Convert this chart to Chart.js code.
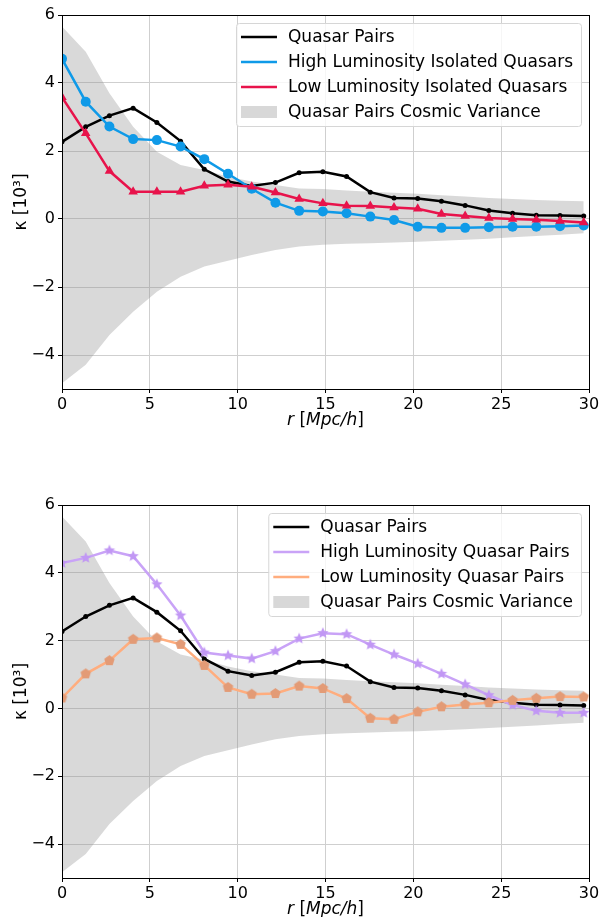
<!DOCTYPE html>
<html>
<head>
<meta charset="utf-8">
<script src="https://cdn.jsdelivr.net/npm/chart.js@4.4.1/dist/chart.umd.min.js"></script>
<style>
  body { margin: 0; background: #fff; }
  .box { position: absolute; left: 0; width: 606px; }
</style>
</head>
<body>
<div class="box" style="top:0px;height:450px"><canvas id="topChart" width="606" height="450"></canvas></div>
<div class="box" style="top:490px;height:427px"><canvas id="bottomChart" width="606" height="427"></canvas></div>
<script>
// --- data ---
const rVals = [0, 1.35, 2.7, 4.05, 5.4, 6.75, 8.1, 9.45, 10.8, 12.15, 13.5, 14.85,
               16.2, 17.55, 18.9, 20.25, 21.6, 22.95, 24.3, 25.65, 27, 28.35, 29.7];
const xTicks = [0, 5, 10, 15, 20, 25, 30];
const yTicks = [-4, -2, 0, 2, 4, 6];

const quasarPairs = [2.27, 2.71, 3.04, 3.26, 2.84, 2.29, 1.46, 1.10, 0.97, 1.07, 1.36, 1.39,
                     1.25, 0.79, 0.62, 0.60, 0.52, 0.40, 0.25, 0.17, 0.11, 0.10, 0.09];
const highLumIsolated = [4.71, 3.45, 2.72, 2.35, 2.32, 2.13, 1.76, 1.33, 0.89, 0.48, 0.24, 0.22,
                         0.17, 0.07, -0.03, -0.23, -0.26, -0.26, -0.24, -0.23, -0.23, -0.21, -0.19];
const lowLumIsolated = [3.58, 2.52, 1.41, 0.80, 0.80, 0.80, 0.98, 1.01, 0.95, 0.78, 0.59, 0.46,
                        0.39, 0.38, 0.34, 0.30, 0.15, 0.09, 0.03, 0.00, -0.02, -0.06, -0.10];
const highLumPairs = [4.29, 4.44, 4.66, 4.49, 3.66, 2.74, 1.65, 1.56, 1.47, 1.69, 2.06, 2.22,
                      2.19, 1.88, 1.59, 1.32, 1.02, 0.71, 0.39, 0.10, -0.07, -0.13, -0.13];
const lowLumPairs = [0.31, 1.02, 1.41, 2.04, 2.08, 1.89, 1.27, 0.62, 0.42, 0.44, 0.66, 0.59,
                     0.29, -0.29, -0.32, -0.10, 0.05, 0.12, 0.17, 0.24, 0.30, 0.35, 0.34];
const varianceHi = [5.66, 4.92, 3.70, 2.71, 1.98, 1.59, 1.44, 1.24, 1.10, 1.00, 0.90, 0.88,
                    0.84, 0.80, 0.77, 0.74, 0.70, 0.66, 0.62, 0.59, 0.56, 0.54, 0.52];
const varianceLo = [-4.83, -4.29, -3.41, -2.73, -2.14, -1.70, -1.40, -1.23, -1.06, -0.91, -0.81, -0.76,
                    -0.73, -0.71, -0.69, -0.67, -0.64, -0.61, -0.58, -0.54, -0.50, -0.46, -0.42];

const FONT = '"DejaVu Sans", sans-serif';

function pts(vals) { return vals.map((v, i) => ({ x: rVals[i], y: v })); }

// filled polygon / star marker drawn onto a small canvas
function markerImg(n, r, inner, color) {
  const size = Math.ceil(r * 2 + 2);
  const c = document.createElement('canvas');
  c.width = c.height = size;
  const g = c.getContext('2d');
  const k = inner ? n * 2 : n;
  g.fillStyle = color;
  g.beginPath();
  for (let j = 0; j < k; j++) {
    const rad = (inner && j % 2) ? r * inner : r;
    const a = -Math.PI / 2 + j * 2 * Math.PI / k;
    const px = size / 2 + rad * Math.cos(a), py = size / 2 + rad * Math.sin(a);
    if (j === 0) g.moveTo(px, py); else g.lineTo(px, py);
  }
  g.closePath();
  g.fill();
  return c;
}

function lineSet(label, vals, color, style, radius, width) {
  return {
    label: label, data: pts(vals), borderColor: color, backgroundColor: color,
    borderWidth: width || 2.5, pointStyle: style, pointRadius: radius, pointHoverRadius: radius,
    pointBorderWidth: 0, fill: false, tension: 0
  };
}

function bandSets() {
  return [
    { label: 'Quasar Pairs Cosmic Variance', data: pts(varianceHi), borderWidth: 0, pointRadius: 0,
      backgroundColor: 'rgba(140,140,140,0.33)', fill: '+1' },
    { label: 'lower', data: pts(varianceLo), borderWidth: 0, pointRadius: 0, fill: false }
  ];
}

// axes titles, full box and legend in matplotlib style
const frameDeco = {
  id: 'frameDeco',
  afterDraw(chart, args, opts) {
    const ctx = chart.ctx, a = chart.chartArea;
    ctx.save();
    ctx.strokeStyle = '#000';
    ctx.lineWidth = 1;
    ctx.strokeRect(Math.round(a.left) + 0.5, Math.round(a.top) + 0.5,
                   Math.round(a.right - a.left), Math.round(a.bottom - a.top));

    // y label
    ctx.fillStyle = '#000';
    ctx.font = '17px ' + FONT;
    ctx.translate(22, (a.top + a.bottom) / 2);
    ctx.rotate(-Math.PI / 2);
    ctx.textAlign = 'center';
    ctx.textBaseline = 'middle';
    ctx.fillText('κ [10³]', 0, 0);
    ctx.setTransform(1, 0, 0, 1, 0, 0);

    // x label with italic parts
    const parts = [['r', true], [' [', false], ['Mpc/h', true], [']', false]];
    let total = 0;
    parts.forEach(p => { ctx.font = (p[1] ? 'italic ' : '') + '17px ' + FONT; total += ctx.measureText(p[0]).width; });
    let x = (a.left + a.right) / 2 - total / 2;
    ctx.textAlign = 'left';
    ctx.textBaseline = 'alphabetic';
    parts.forEach(p => {
      ctx.font = (p[1] ? 'italic ' : '') + '17px ' + FONT;
      ctx.fillText(p[0], x, a.bottom + 36);
      x += ctx.measureText(p[0]).width;
    });

    // legend
    const items = opts.items;
    ctx.font = '17px ' + FONT;
    let tw = 0;
    items.forEach(it => { tw = Math.max(tw, ctx.measureText(it.label).width); });
    const w = 5 + 36 + 11 + tw + 8, h = 103;
    const bx = a.right - 8 - w, by = a.top + 8;
    ctx.beginPath();
    ctx.roundRect(bx + 0.5, by + 0.5, w, h, 3);
    ctx.fillStyle = 'rgba(255,255,255,0.8)';
    ctx.fill();
    ctx.strokeStyle = '#d6d6d6';
    ctx.stroke();
    items.forEach((it, i) => {
      const cy = by + 14 + i * 25;
      if (it.patch) {
        ctx.fillStyle = '#d8d8d8';
        ctx.fillRect(bx + 5, cy - 6, 36, 12);
      } else {
        ctx.strokeStyle = it.color;
        ctx.lineWidth = 2.5;
        ctx.beginPath();
        ctx.moveTo(bx + 5, cy);
        ctx.lineTo(bx + 41, cy);
        ctx.stroke();
      }
      ctx.fillStyle = '#000';
      ctx.textBaseline = 'middle';
      ctx.fillText(it.label, bx + 52, cy + 1);
    });
    ctx.restore();
  }
};

function makeChart(id, datasets, legendItems, xAxisHeight) {
  return new Chart(document.getElementById(id), {
    type: 'line',
    data: { datasets: datasets },
    options: {
      responsive: false,
      animation: false,
      layout: { padding: { top: 15, right: 17, left: 0, bottom: 0 } },
      plugins: { legend: { display: false }, tooltip: { enabled: false }, frameDeco: { items: legendItems } },
      scales: {
        x: {
          type: 'linear', min: 0, max: 30,
          afterBuildTicks: s => { s.ticks = xTicks.map(v => ({ value: v })); },
          afterFit: s => { s.height = xAxisHeight; },
          grid: { color: '#cfcfcf', lineWidth: 1, tickColor: '#000', tickLength: 4 },
          border: { color: '#000', width: 1 },
          ticks: { color: '#000', font: { family: FONT, size: 16 }, padding: 2, maxRotation: 0 }
        },
        y: {
          type: 'linear', min: -5, max: 6,
          afterBuildTicks: s => { s.ticks = yTicks.map(v => ({ value: v })); },
          afterFit: s => { s.width = 62; },
          grid: { color: '#cfcfcf', lineWidth: 1, tickColor: '#000', tickLength: 4 },
          border: { color: '#000', width: 1 },
          ticks: { color: '#000', font: { family: FONT, size: 16 }, padding: 3,
                   callback: v => v < 0 ? '\u2212' + Math.abs(v) : String(v) }
        }
      }
    },
    plugins: [frameDeco]
  });
}

const BLUE = '#0f9ae8', RED = '#e8134b', PURPLE = '#c9a3f7', ORANGE = '#ffad7e';

makeChart('topChart', [
  lineSet('Low Luminosity Isolated Quasars', lowLumIsolated, RED, 'triangle', 5.5),
  lineSet('High Luminosity Isolated Quasars', highLumIsolated, BLUE, 'circle', 5),
  lineSet('Quasar Pairs', quasarPairs, '#000', 'circle', 2.5),
  ...bandSets()
], [
  { label: 'Quasar Pairs', color: '#000' },
  { label: 'High Luminosity Isolated Quasars', color: BLUE },
  { label: 'Low Luminosity Isolated Quasars', color: RED },
  { label: 'Quasar Pairs Cosmic Variance', patch: true }
], 450 - 389);

makeChart('bottomChart', [
  lineSet('Low Luminosity Quasar Pairs', lowLumPairs, ORANGE, markerImg(5, 5.5, 0, '#e39b76'), 5.5),
  lineSet('High Luminosity Quasar Pairs', highLumPairs, PURPLE, markerImg(5, 6, 0.45, '#c197f4'), 6),
  lineSet('Quasar Pairs', quasarPairs, '#000', 'circle', 2.5),
  ...bandSets()
], [
  { label: 'Quasar Pairs', color: '#000' },
  { label: 'High Luminosity Quasar Pairs', color: PURPLE },
  { label: 'Low Luminosity Quasar Pairs', color: ORANGE },
  { label: 'Quasar Pairs Cosmic Variance', patch: true }
], 427 - 388);
</script>
</body>
</html>
